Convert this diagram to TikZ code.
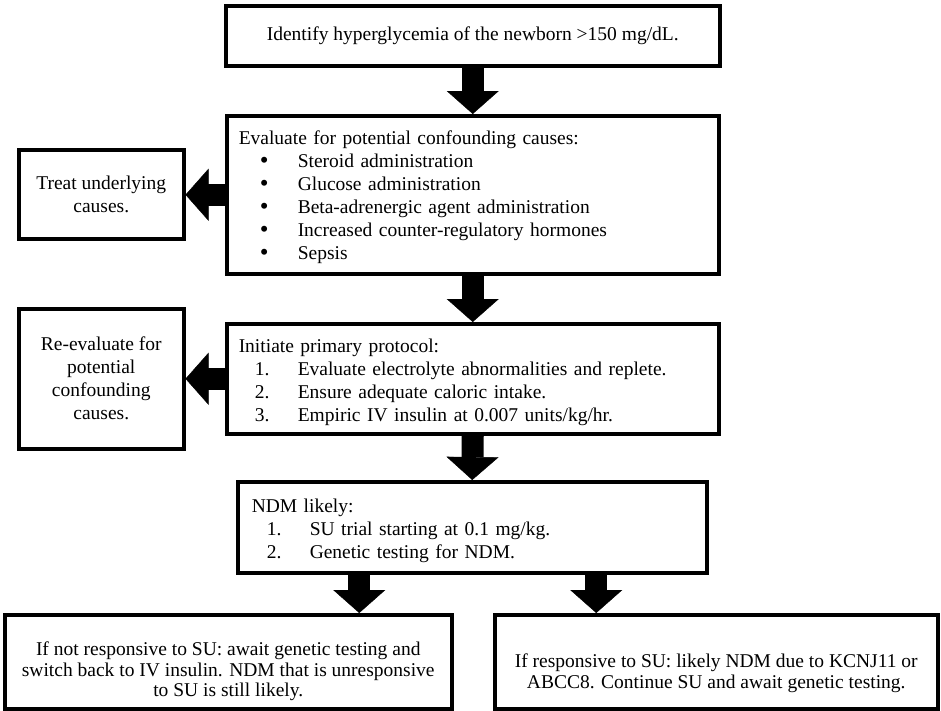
\documentclass[tikz,border=0pt]{standalone}
\usepackage{fontspec}
\setmainfont{Liberation Serif}
\usetikzlibrary{arrows.meta,calc}
\tikzset{
	box/.style={draw=black, line width=3.5pt, fill=white, anchor=north west, inner sep=0pt, align=center, font=\fontsize{19.5}{23}\selectfont},
	bigarrow/.style={draw=black, line width=22pt, -{Triangle[width=52pt,length=23pt,line width=0.4pt]}}
}
\newcommand{\bulletitem}[1]{\hspace*{21pt}\makebox[38pt][l]{\raisebox{-1pt}{\fontsize{25}{23}\selectfont•}}#1}
\newcommand{\numitem}[3]{\hspace*{#1}\makebox[43pt][l]{#2}#3}
\begin{document}
\begin{tikzpicture}[x=1pt,y=-1pt]
	\useasboundingbox[fill=white] (0,0) rectangle (941,710);
	\node[box, minimum width=494pt, minimum height=60pt] (newborn) at (224,4) {Identify hyperglycemia of the newborn >150 mg/dL.};
	\node[box, align=left, inner xsep=12pt, text width=468pt, minimum height=158pt, text height=18pt] (confound) at (225,114) {Evaluate for potential confounding causes:\\
		\bulletitem{Steroid administration}\\
		\bulletitem{Glucose administration}\\
		\bulletitem{Beta-adrenergic agent administration}\\
		\bulletitem{Increased counter-regulatory hormones}\\
		\bulletitem{Sepsis}};
	\node[box, minimum width=165pt, minimum height=89pt] (treat) at (17,148) {Treat underlying\\causes.};
	\node[box, align=left, inner xsep=12pt, text width=468pt, minimum height=110pt, text height=20pt] (protocol) at (225,322) {Initiate primary protocol:\\
		\numitem{16pt}{1.}{Evaluate electrolyte abnormalities and replete.}\\
		\numitem{16pt}{2.}{Ensure adequate caloric intake.}\\
		\numitem{16pt}{3.}{Empiric IV insulin at 0.007 units/kg/hr.}};
	\node[box, minimum width=165pt, minimum height=140pt] (reeval) at (17,307) {Re-evaluate for\\potential\\confounding\\causes.};
	\node[box, align=left, inner xsep=14pt, text width=441pt, minimum height=91pt, text height=20pt] (ndm) at (236,480) {NDM likely:\\
		\numitem{15pt}{1.}{SU trial starting at 0.1 mg/kg.}\\
		\numitem{15pt}{2.}{Genetic testing for NDM.}};
	\node[box, minimum width=447pt, text height=82pt, text depth=12pt, font=\fontsize{19.5}{20.5}\selectfont] (noresp) at (3,613) {If not responsive to SU: await genetic testing and\\switch back to IV insulin. NDM that is unresponsive\\to SU is still likely.};
	\node[box, minimum width=443pt, text height=74pt, text depth=20pt, font=\fontsize{19.5}{21.5}\selectfont] (resp) at (493,613) {If responsive to SU: likely NDM due to KCNJ11 or\\ABCC8. Continue SU and await genetic testing.};
	\coordinate (ndmL) at ($(ndm.south)+(-113,0)$);
	\coordinate (ndmR) at ($(ndm.south)+(124,0)$);
	\draw[bigarrow] (newborn.south) -- (confound.north);
	\draw[bigarrow] (confound.south) -- (protocol.north);
	\draw[bigarrow] (protocol.south) -- (ndm.north);
	\draw[bigarrow] (confound.west) -- (confound.west -| treat.east);
	\draw[bigarrow] (protocol.west) -- (protocol.west -| reeval.east);
	\draw[bigarrow] (ndmL) -- (ndmL |- noresp.north);
	\draw[bigarrow] (ndmR) -- (ndmR |- resp.north);
\end{tikzpicture}
\end{document}
